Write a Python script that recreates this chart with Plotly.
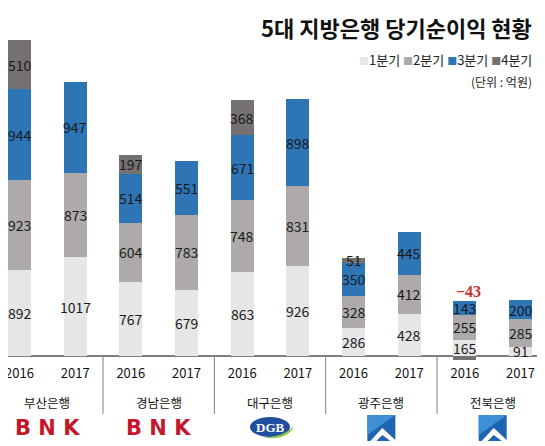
import plotly.graph_objects as go

# ---------------- data ----------------
banks = ["부산은행", "경남은행", "대구은행", "광주은행", "전북은행"]
years = ["2016", "2017"]
q1 = [892, 1017, 767, 679, 863, 926, 286, 428, 165, 91]
q2 = [923, 873, 604, 783, 748, 831, 328, 412, 255, 285]
q3 = [944, 947, 514, 551, 671, 898, 350, 445, 143, 200]
q4 = [510, None, 197, None, 368, None, 51, None, -43, None]
series_names = ["1분기", "2분기", "3분기", "4분기"]
colors = ["#e7e6e6", "#aeaaaa", "#2e75b6", "#767171"]

# the page body has an 8px default margin; the figure fills the rest
OFF = 8
W, H = 545 - OFF, 446 - OFF
PLOT_H = 352  # plot area height in px (margin top 0)

xs = list(range(len(banks) * len(years)))
ticktext = [y for _ in banks for y in years]

FONT = "Noto Sans CJK KR"
X0, DX = 19.5, 55.67


def px_x(px):
    # window pixel -> data x
    return (px - X0) / DX


def px_y(py):
    # window pixel -> paper y
    return (PLOT_H - (py - OFF)) / PLOT_H


fig = go.Figure()
all_series = [q1, q2, q3, q4]
for name, vals, col in zip(series_names, all_series, colors):
    fig.add_trace(go.Bar(
        x=xs, y=vals, name=name, width=0.41,
        marker=dict(color=col, line=dict(width=0)),
        showlegend=False, hoverinfo="y+name"))

annotations = []
# segment labels
for i in xs:
    cum = 0
    for s, vals in enumerate(all_series):
        v = vals[i]
        if v is None:
            continue
        if v < 0:
            top = sum(vv[i] for vv in all_series[:s] if vv[i] is not None)
            annotations.append(dict(
                x=i, y=top, xref="x", yref="y", text="<b>−" + str(abs(v)) + "</b>",
                showarrow=False, yanchor="bottom", yshift=-1, xshift=4,
                font=dict(family="Liberation Serif", size=16, color="#d02b2f"),
            ))
            continue
        annotations.append(dict(
            x=i, y=cum + v / 2, xref="x", yref="y", text=str(v),
            showarrow=False, yanchor="middle",
            font=dict(family=FONT, size=14, color="#1a1a1a")))
        cum += v

# bank names
for b, name in enumerate(banks):
    annotations.append(dict(
        x=b * 2 + 0.5, y=px_y(402), xref="x", yref="paper", text=name,
        showarrow=False, yanchor="middle",
        font=dict(family=FONT, size=12.5, color="#111")))

# BNK logos
for b in (0, 1):
    annotations.append(dict(
        x=b * 2 + 0.5, y=px_y(428), xref="x", yref="paper", text="<b>B N K</b>",
        showarrow=False, yanchor="middle",
        font=dict(family="DejaVu Sans", size=21, color="#c4172c")))

# DGB text
annotations.append(dict(
    x=4.5, y=px_y(427), xref="x", yref="paper", text="<b>DGB</b>",
    showarrow=False, yanchor="middle",
    font=dict(family="Liberation Serif", size=13, color="white")))

# title
annotations.append(dict(
    x=px_x(534), y=px_y(27), xref="x", yref="paper",
    text="<b>5대 지방은행 당기순이익 현황</b>", showarrow=False,
    xanchor="right", yanchor="middle",
    font=dict(family=FONT, size=22, color="#111")))

# legend
leg = "&nbsp;".join(
    f'<span style="color:{c};font-size:10px">■</span>{n}'
    for n, c in zip(series_names, colors))
annotations.append(dict(
    x=px_x(534), y=px_y(60), xref="x", yref="paper", text=leg,
    showarrow=False, xanchor="right", yanchor="middle",
    font=dict(family=FONT, size=13, color="#222")))

annotations.append(dict(
    x=px_x(534), y=px_y(81), xref="x", yref="paper", text="(단위 : 억원)",
    showarrow=False, xanchor="right", yanchor="middle",
    font=dict(family=FONT, size=12, color="#222")))

shapes = []
# group separators
for b in range(1, len(banks)):
    shapes.append(dict(type="line", xref="x", yref="paper",
                       x0=b * 2 - 0.5, x1=b * 2 - 0.5,
                       y0=px_y(355.5), y1=px_y(414),
                       line=dict(color="#7f7f7f", width=1)))

# DGB oval logo
gx = X0 + DX * 4.5
shapes.append(dict(type="circle", xref="x", yref="paper",
                   x0=px_x(gx - 20), x1=px_x(gx + 20), y0=px_y(437), y1=px_y(417),
                   fillcolor="#1f4f9e", line=dict(width=0)))
shapes.append(dict(type="path", xref="x", yref="paper",
                   path=f"M {px_x(gx - 8)},{px_y(437.5)} Q {px_x(gx + 14)},{px_y(437)} {px_x(gx + 24)},{px_y(426)} "
                        f"Q {px_x(gx + 18)},{px_y(441)} {px_x(gx - 8)},{px_y(437.5)} Z",
                   fillcolor="#8cc63f", line=dict(width=0)))

# JB logos
for b in (3, 4):
    cx = X0 + DX * (b * 2 + 0.5)
    l, r, t, bt = cx - 14, cx + 14, 415, 441
    shapes.append(dict(type="rect", xref="x", yref="paper",
                       x0=px_x(l), x1=px_x(r), y0=px_y(bt), y1=px_y(t),
                       fillcolor="#1f64b0", line=dict(width=0)))
    shapes.append(dict(type="path", xref="x", yref="paper",
                       path=f"M {px_x(l)},{px_y(t)} L {px_x(r)},{px_y(t)} L {px_x(l)},{px_y(bt - 6)} Z",
                       fillcolor="#3d8fd6", line=dict(width=0)))
    shapes.append(dict(type="path", xref="x", yref="paper",
                       path=(f"M {px_x(l + 3)},{px_y(bt)} L {px_x(cx + 1)},{px_y(bt - 13)} "
                             f"L {px_x(r)},{px_y(bt - 1)} L {px_x(r)},{px_y(bt)} "
                             f"L {px_x(r - 5)},{px_y(bt)} L {px_x(cx + 1)},{px_y(bt - 6)} "
                             f"L {px_x(l + 9)},{px_y(bt)} Z"),
                       fillcolor="white", line=dict(width=0)))

fig.update_layout(
    width=W, height=H,
    margin=dict(l=0, r=0, t=0, b=H - PLOT_H, pad=0),
    paper_bgcolor="white", plot_bgcolor="white",
    barmode="relative", bargap=0,
    showlegend=False,
    xaxis=dict(range=[px_x(OFF), px_x(545)], tickvals=xs, ticktext=ticktext,
               showgrid=False, zeroline=False, showline=False, ticks="",
               tickfont=dict(family=FONT, size=13, color="#111"),
               ticklabelstandoff=4, ticklabeloverflow="allow",
               automargin=False, fixedrange=True),
    yaxis=dict(range=[-45, 3601], showgrid=False, showticklabels=False,
               zeroline=True, zerolinecolor="#7f7f7f", zerolinewidth=1.5,
               automargin=False, fixedrange=True),
    annotations=annotations, shapes=shapes,
)

fig.write_html("out.html")
